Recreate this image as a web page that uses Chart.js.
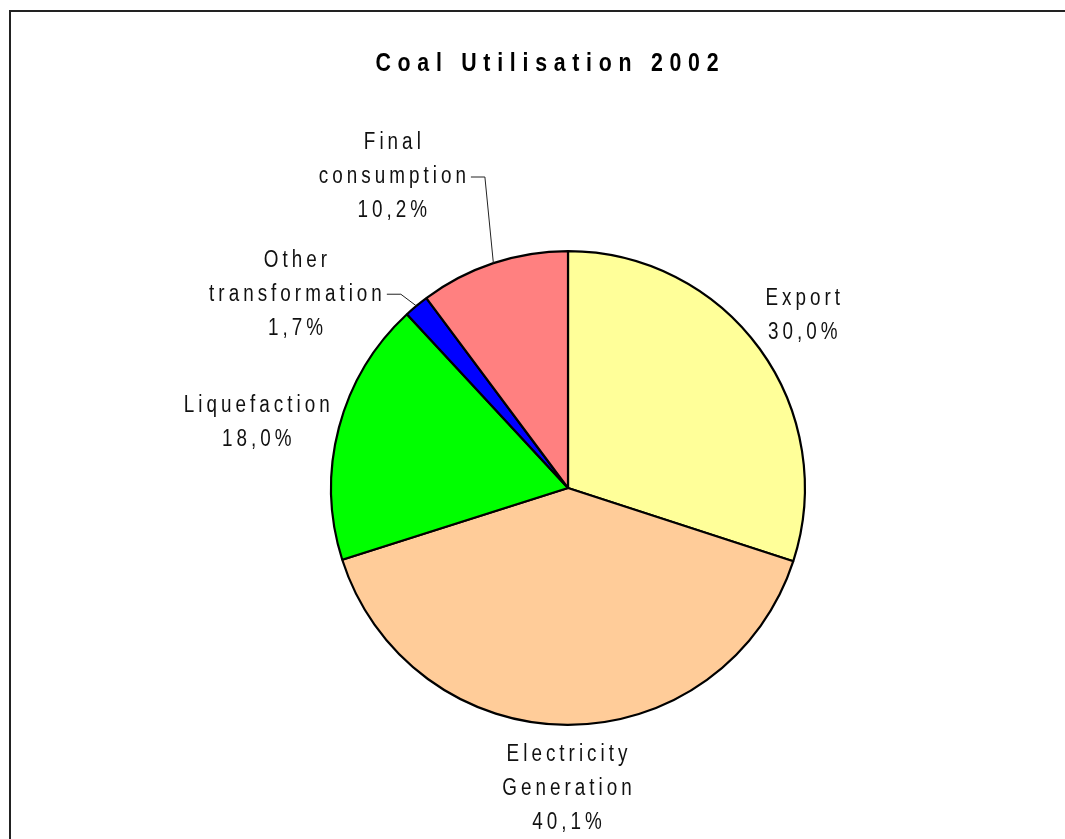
<!DOCTYPE html>
<html>
<head>
<meta charset="utf-8">
<script src="https://cdn.jsdelivr.net/npm/chart.js@4.4.1/dist/chart.umd.min.js"></script>
<style>
  html, body { margin: 0; padding: 0; background: #fff; }
  #wrap { position: relative; width: 1065px; height: 839px; }
</style>
</head>
<body>
<div id="wrap"><canvas id="pie" width="1065" height="839"></canvas></div>
<script>
// datos del grafico
var titulo = 'Coal Utilisation 2002';
var categorias = [['Export'], ['Electricity', 'Generation'], ['Liquefaction'], ['Other', 'transformation'], ['Final', 'consumption']];
var valores = [30.0, 40.1, 18.0, 1.7, 10.2];
var etiquetasPct = ['30,0%', '40,1%', '18,0%', '1,7%', '10,2%'];
var colores = ['#FFFF99', '#FFCC99', '#00FF00', '#0000FF', '#FF8080'];

// como se ubica cada etiqueta (auto o con linea guia)
var ubicacion = [
    {guia: false, gap: 16, ajusteY: -4},
    {guia: false, gap: 14, ajusteY: -1},
    {guia: false, gap: 12, ajusteY: 7},
    {guia: true, giro: -1, dist: 19},
    {guia: true, giro: 3.4, dist: 85}
];

var FUENTE = '"Liberation Sans", Arial, sans-serif';
var ESCALA = 0.82; // fuente angosta simulada

// ancho real (ya escalado) sin el espacio final
function anchoTexto(ctx, txt, espU) {
    return (ctx.measureText(txt).width - espU) * ESCALA;
}

function textoEspaciado(ctx, txt, cx, y, espU) {
    var w = anchoTexto(ctx, txt, espU);
    ctx.save();
    ctx.translate(cx - w / 2, y);
    ctx.scale(ESCALA, 1);
    ctx.fillText(txt, 0, 0);
    ctx.restore();
}

// plugin para marco, titulo y etiquetas
var pluginEtiquetas = {
    id: 'etiquetas',
    beforeDraw: function (chart) {
        var ctx = chart.ctx;
        ctx.save();
        ctx.strokeStyle = '#222';
        ctx.lineWidth = 2;
        ctx.beginPath();
        ctx.moveTo(10, 839);
        ctx.lineTo(10, 11);
        ctx.lineTo(1065, 11);
        ctx.stroke();
        ctx.restore();
    },
    afterDraw: function (chart) {
        var ctx = chart.ctx;
        ctx.save();
        ctx.fillStyle = '#000';
        ctx.textBaseline = 'middle';
        ctx.textAlign = 'left';

        // titulo
        var espT = 8.2;
        ctx.font = 'bold 26px ' + FUENTE;
        ctx.letterSpacing = espT + 'px';
        textoEspaciado(ctx, titulo, 547, 64, espT);

        var esp = 4.9;
        var altoLinea = 34;
        ctx.font = '23px ' + FUENTE;
        ctx.letterSpacing = esp + 'px';
        ctx.fillStyle = '#111';

        var meta = chart.getDatasetMeta(0);
        meta.data.forEach(function (arc, i) {
            var cx = arc.x, cy = arc.y, r = arc.outerRadius;
            var medio = (arc.startAngle + arc.endAngle) / 2;
            var lineas = categorias[i].concat([etiquetasPct[i]]);
            var anchoMax = 0;
            lineas.forEach(function (l) {
                anchoMax = Math.max(anchoMax, anchoTexto(ctx, l, esp));
            });
            var alto = lineas.length * altoLinea;
            var u = ubicacion[i];
            var bx, by;

            if (!u.guia) {
                var dx = Math.cos(medio), dy = Math.sin(medio);
                var px = cx + (r + u.gap) * dx;
                var py = cy + (r + u.gap) * dy;
                bx = px + dx * anchoMax / 2;
                by = py + dy * alto / 2 + (u.ajusteY || 0);
            } else {
                var ang = medio + u.giro * Math.PI / 180;
                var ex = cx + (r + u.dist) * Math.cos(ang);
                var ey = cy + (r + u.dist) * Math.sin(ang);
                var bordeX = cx + r * Math.cos(medio);
                var bordeY = cy + r * Math.sin(medio);
                ctx.save();
                ctx.strokeStyle = '#222';
                ctx.lineWidth = 1;
                ctx.beginPath();
                ctx.moveTo(bordeX, bordeY);
                ctx.lineTo(ex, ey);
                ctx.lineTo(ex - 14, ey);
                ctx.stroke();
                ctx.restore();
                bx = ex - 19 - anchoMax / 2;
                by = ey;
            }

            var y0 = by - alto / 2 + altoLinea / 2;
            lineas.forEach(function (l, k) {
                textoEspaciado(ctx, l, bx, y0 + k * altoLinea, esp);
            });
        });
        ctx.restore();
    }
};

var ctx = document.getElementById('pie').getContext('2d');
new Chart(ctx, {
    type: 'pie',
    data: {
        labels: categorias.map(function (c) { return c.join(' '); }),
        datasets: [{
                data: valores,
                backgroundColor: colores,
                borderColor: '#000',
                borderWidth: 2.2
            }]
    },
    options: {
        responsive: false,
        animation: false,
        layout: {
            padding: {left: 330, right: 259, top: 250, bottom: 113}
        },
        plugins: {
            legend: {display: false},
            tooltip: {enabled: false},
            title: {display: false}
        }
    },
    plugins: [pluginEtiquetas]
});
</script>
</body>
</html>
